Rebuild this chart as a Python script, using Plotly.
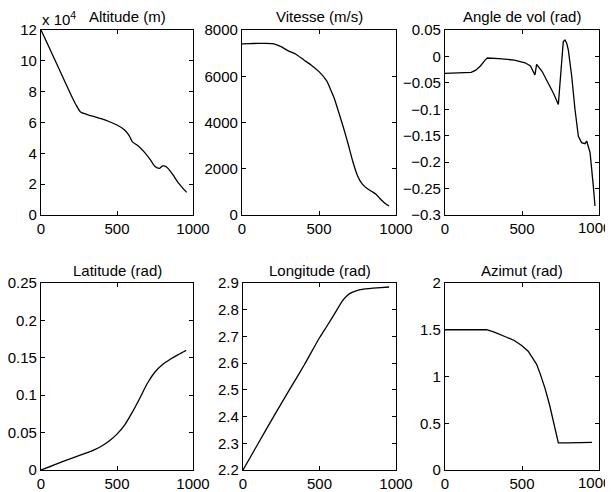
import plotly.graph_objects as go

# ---------------- data ----------------
t_alt = [0, 50, 100, 150, 200, 230, 260, 300, 350, 400, 450, 500, 550, 580, 600, 640, 680, 720, 750, 780, 800, 820, 840, 870, 900, 930, 958]
altitude = [120000, 109500, 98700, 88000, 77400, 71500, 66800, 65300, 63800, 62300, 60500, 58400, 55200, 51500, 47600, 44800, 40800, 35800, 31500, 30300, 31800, 31600, 29800, 25800, 21300, 17800, 14700]

t_vit = [0, 50, 100, 150, 200, 250, 300, 350, 400, 450, 500, 550, 580, 600, 630, 660, 690, 720, 750, 780, 810, 840, 870, 900, 930, 955]
vitesse = [7400, 7410, 7420, 7425, 7410, 7290, 7100, 6950, 6710, 6480, 6200, 5800, 5350, 5030, 4400, 3750, 3050, 2300, 1700, 1350, 1160, 1030, 900, 680, 500, 390]

t_ang = [0, 100, 170, 200, 230, 260, 275, 350, 450, 520, 555, 584, 595, 630, 671, 705, 736, 752, 768, 779, 790, 801, 823, 844, 866, 887, 909, 920, 942, 963, 974]
angle = [-0.032, -0.031, -0.030, -0.026, -0.018, -0.007, -0.003, -0.004, -0.007, -0.012, -0.018, -0.035, -0.015, -0.028, -0.050, -0.070, -0.091, -0.030, 0.028, 0.031, 0.025, 0.012, -0.038, -0.100, -0.151, -0.163, -0.165, -0.160, -0.182, -0.245, -0.283]

t_lat = [0, 100, 200, 300, 350, 400, 450, 500, 550, 600, 650, 700, 750, 800, 850, 900, 955]
latitude = [0, 0.008, 0.0155, 0.023, 0.027, 0.032, 0.039, 0.048, 0.060, 0.077, 0.096, 0.116, 0.131, 0.141, 0.148, 0.154, 0.160]

t_lon = [0, 100, 200, 300, 400, 500, 550, 600, 650, 680, 700, 730, 760, 800, 850, 900, 955]
longitude = [2.2, 2.3, 2.4, 2.497, 2.593, 2.695, 2.74, 2.786, 2.833, 2.852, 2.861, 2.869, 2.874, 2.878, 2.881, 2.883, 2.885]

t_az = [0, 270, 320, 360, 400, 450, 500, 540, 570, 595, 620, 650, 680, 710, 736, 800, 955]
azimut = [1.5, 1.5, 1.475, 1.45, 1.42, 1.385, 1.33, 1.27, 1.2, 1.13, 1.02, 0.87, 0.69, 0.48, 0.29, 0.29, 0.295]

titles = ["Altitude (m)", "Vitesse (m/s)", "Angle de vol (rad)",
          "Latitude (rad)", "Longitude (rad)", "Azimut (rad)"]
x_tickvals = [0, 500, 1000]
x_ticktext = ["0", "500", "1000"]
alt_tickvals = [0, 20000, 40000, 60000, 80000, 100000, 120000]
alt_ticktext = ["0", "2", "4", "6", "8", "10", "12"]

# ---------------- figure ----------------
OFF = 8                      # page body margin
W, H = 613 - OFF, 492 - OFF
FONT = "Liberation Sans, Arial, Helvetica, sans-serif"

fig = go.Figure()
series = [(t_alt, altitude), (t_vit, vitesse), (t_ang, angle),
          (t_lat, latitude), (t_lon, longitude), (t_az, azimut)]
shapes = ["spline", "spline", "linear", "spline", "spline", "linear"]
for i, (tx, ty) in enumerate(series):
    k = "" if i == 0 else str(i + 1)
    fig.add_trace(go.Scatter(x=tx, y=ty, mode="lines",
                             line=dict(color="black", width=1.3,
                                       shape=shapes[i], smoothing=0.6),
                             xaxis="x" + k, yaxis="y" + k, showlegend=False,
                             hoverinfo="skip"))

# pixel boxes in the screenshot (left, right, top, bottom)
boxes = [(41, 193, 30, 215), (242, 396, 30, 215), (445, 599, 30, 215),
         (41, 193, 283, 470), (243, 396, 283, 470), (445, 599, 283, 470)]
yranges = [[0, 120000], [0, 8000], [-0.3, 0.05], [0, 0.25], [2.2, 2.9], [0, 2]]
dticks = [20000, 2000, 0.05, 0.05, 0.1, 0.5]

def px(x):
    return (x - OFF) / W

def py(y):
    return 1 - (y - OFF) / H

common = dict(showline=True, linecolor="black", linewidth=1.2, mirror="ticks",
              ticks="inside", ticklen=4, tickcolor="black", tickwidth=1,
              showgrid=False, zeroline=False, automargin=False,
              tickfont=dict(family=FONT, size=15, color="black"))

layout = {}
annotations = []
for i, (l, r, tp, b) in enumerate(boxes):
    k = "" if i == 0 else str(i + 1)
    right_col = (i % 3 == 2)
    # right column: the last x label is drawn as an annotation so it stays inside the page
    ttext = x_ticktext[:-1] + [""] if right_col else x_ticktext
    xa = dict(common, domain=[px(l), px(r)], range=[0, 1000],
              tickvals=x_tickvals, ticktext=ttext, anchor="y" + k)
    ya = dict(common, domain=[py(b), py(tp)], range=yranges[i],
              dtick=dticks[i], tick0=0, anchor="x" + k, exponentformat="none")
    if i == 0:
        ya.pop("dtick"); ya.pop("tick0")
        ya["tickvals"] = alt_tickvals
        ya["ticktext"] = alt_ticktext
    layout["xaxis" + k] = xa
    layout["yaxis" + k] = ya
    cx = (l + r) / 2 if i != 0 else 127
    annotations.append(dict(text=titles[i], x=px(cx), y=py(tp - 13),
                            xref="paper", yref="paper", showarrow=False,
                            xanchor="center", yanchor="middle",
                            font=dict(family=FONT, size=15, color="black")))
    if right_col:
        annotations.append(dict(text=x_ticktext[-1], x=1.0, y=py(b + 3),
                                xref="paper", yref="paper", showarrow=False,
                                xanchor="right", yanchor="top", xshift=-1,
                                borderpad=0,
                                font=dict(family=FONT, size=15, color="black")))

annotations.append(dict(text="x 10<sup>4</sup>", x=px(40), y=py(19),
                        xref="paper", yref="paper", showarrow=False,
                        xanchor="left", yanchor="middle",
                        font=dict(family=FONT, size=15, color="black")))

fig.update_layout(**layout)
fig.update_layout(width=W, height=H, margin=dict(l=0, r=0, t=0, b=0),
                  paper_bgcolor="white", plot_bgcolor="white",
                  annotations=annotations,
                  font=dict(family=FONT, size=15, color="black"))

fig.write_html("out.html")
